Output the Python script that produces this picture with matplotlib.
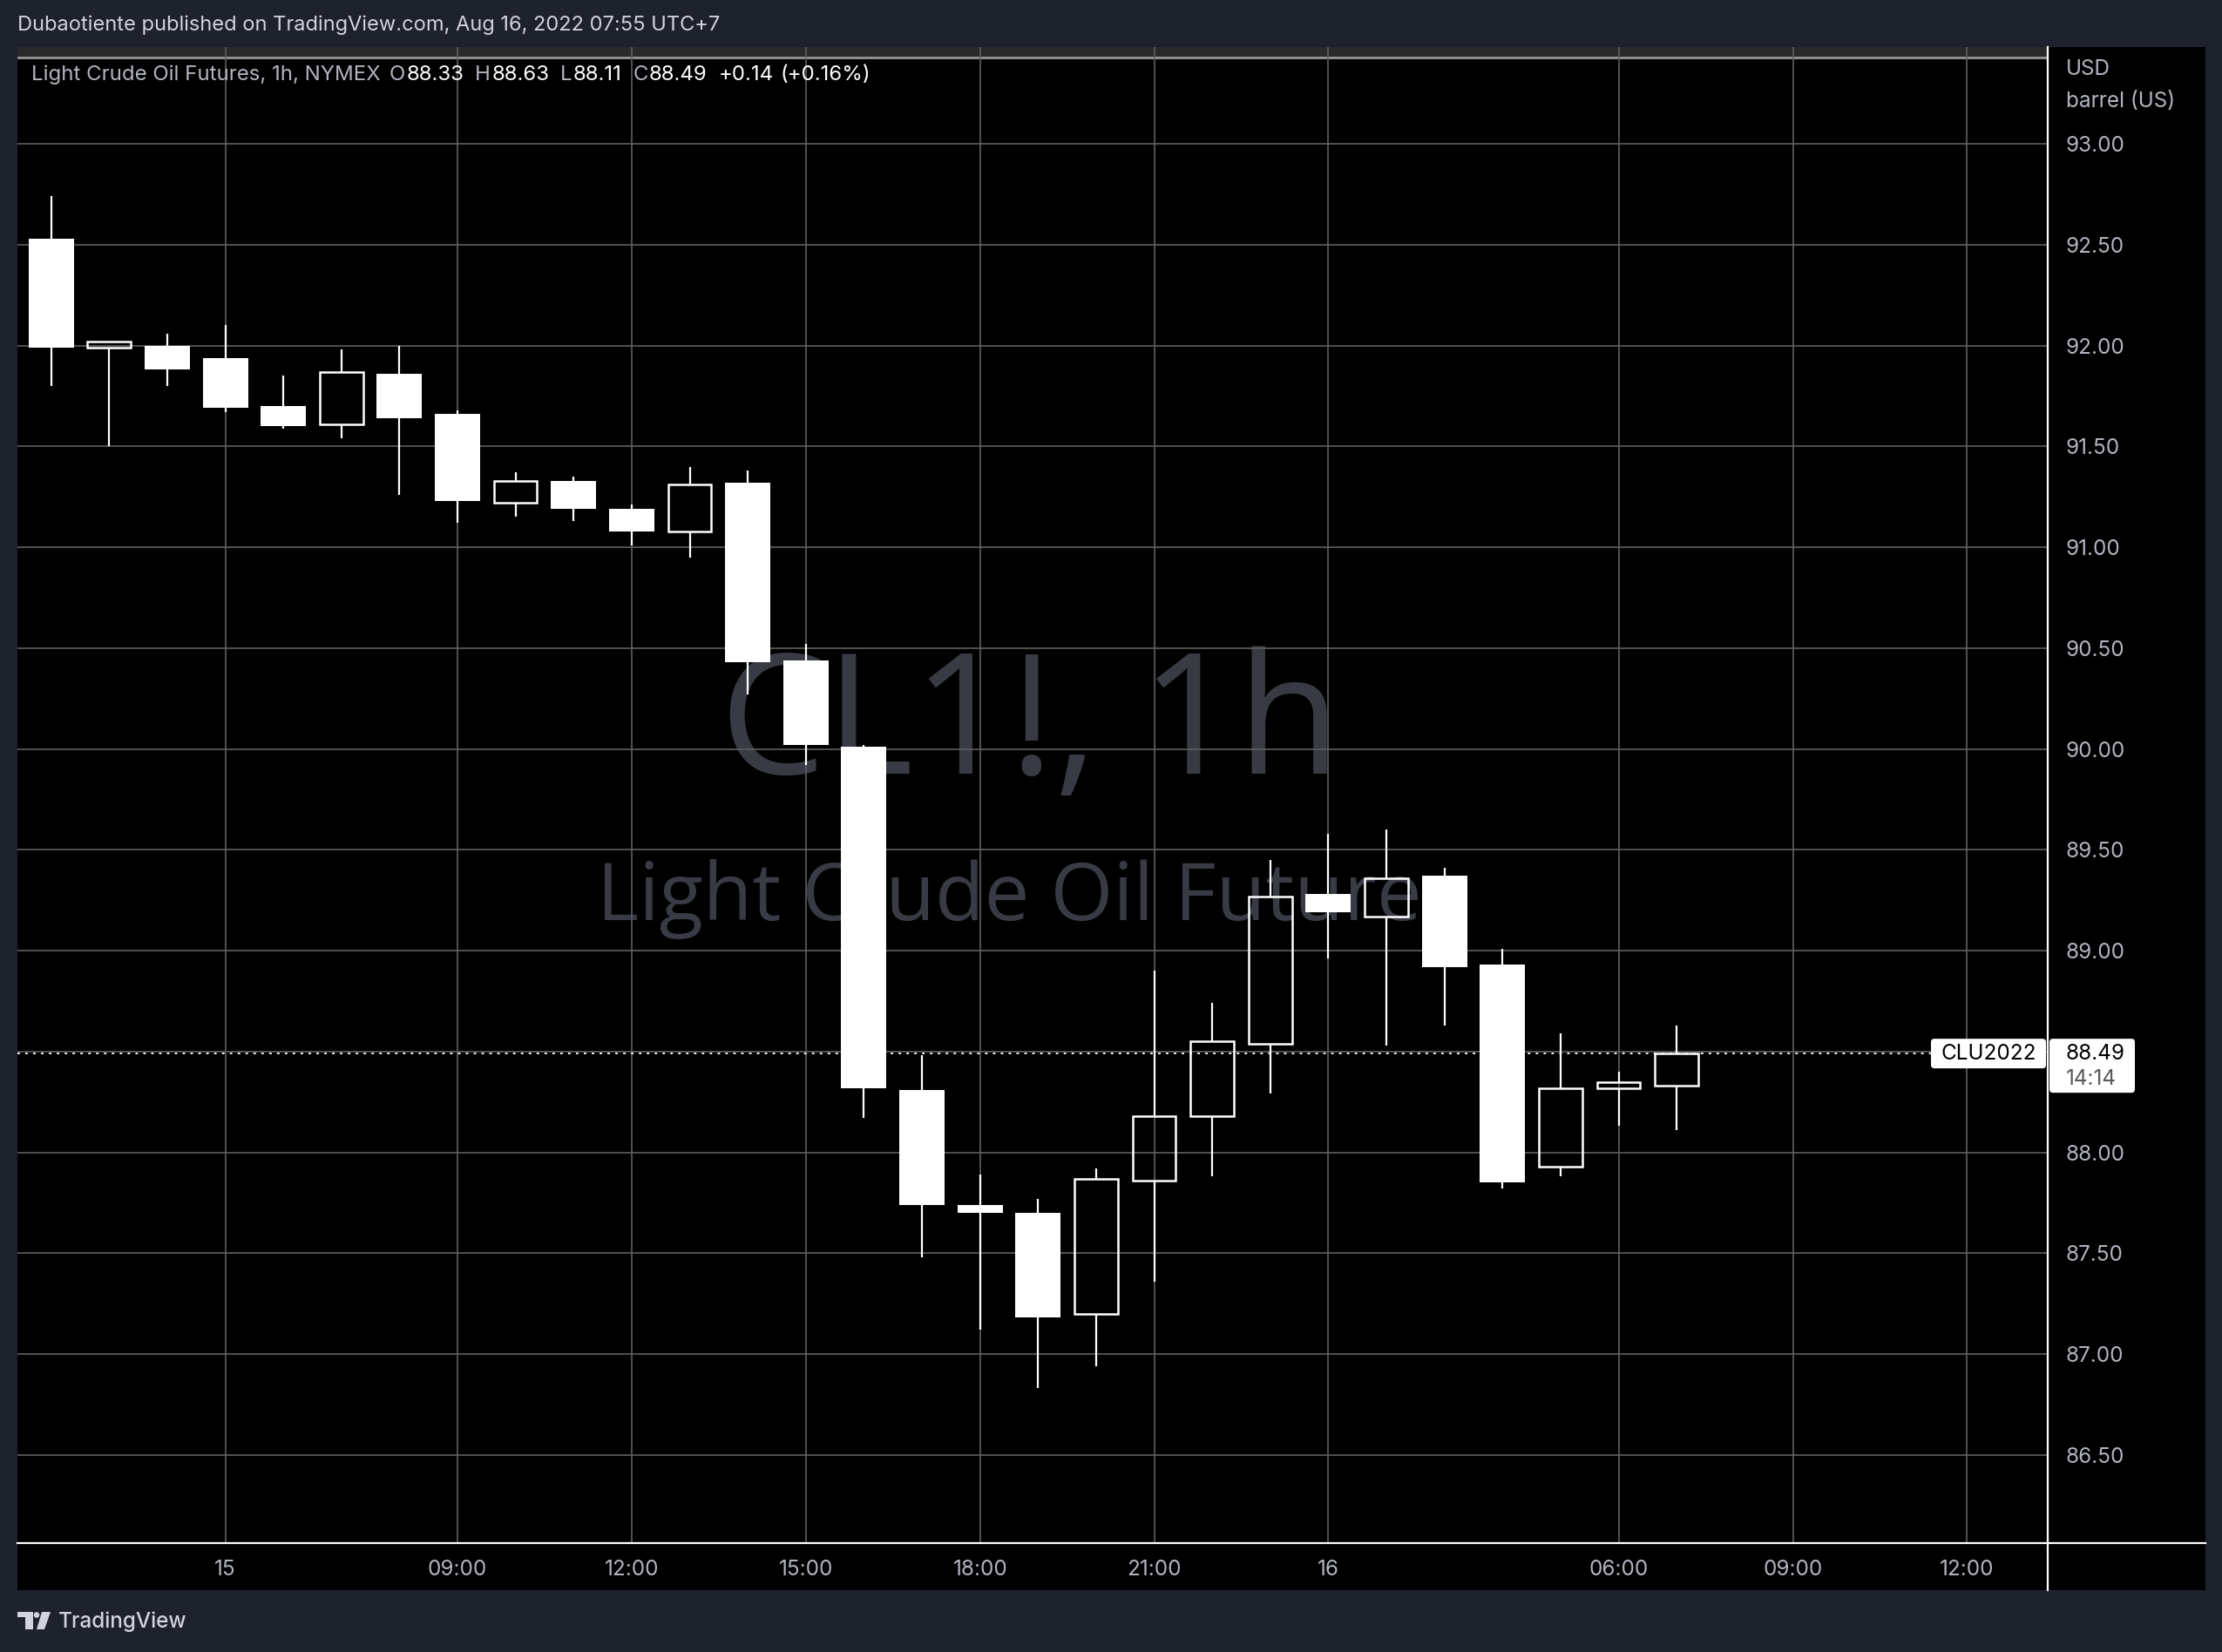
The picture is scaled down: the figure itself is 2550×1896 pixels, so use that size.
import matplotlib

matplotlib.use("Agg")
import matplotlib.pyplot as plt
import numpy as np
from matplotlib.lines import Line2D
from matplotlib.patches import Circle, FancyBboxPatch, Polygon, Rectangle
from matplotlib.transforms import IdentityTransform

W, H = 2550, 1896
DPI = 100

# CL1! hourly bars (UTC+7), oldest first
opens = [92.53, 91.99, 92.00, 91.94, 91.70, 91.61, 91.86, 91.66, 91.22, 91.33,
         91.19, 91.08, 91.32, 90.44, 90.01, 88.31, 87.74, 87.70, 87.20, 87.86,
         88.18, 88.54, 89.28, 89.17, 89.37, 88.93, 87.93, 88.32, 88.33]
highs = [92.74, 92.02, 92.06, 92.10, 91.85, 91.98, 92.00, 91.68, 91.37, 91.35,
         91.21, 91.40, 91.38, 90.52, 90.02, 88.48, 87.89, 87.77, 87.92, 88.90,
         88.74, 89.45, 89.58, 89.60, 89.41, 89.01, 88.59, 88.40, 88.63]
lows = [91.80, 91.50, 91.80, 91.67, 91.59, 91.54, 91.26, 91.12, 91.15, 91.13,
        91.01, 90.95, 90.27, 89.92, 88.17, 87.48, 87.12, 86.83, 86.94, 87.36,
        87.88, 88.29, 88.96, 88.53, 88.63, 87.82, 87.88, 88.13, 88.11]
closes = [91.99, 92.02, 91.88, 91.69, 91.60, 91.87, 91.64, 91.23, 91.33, 91.19,
          91.08, 91.31, 90.43, 90.02, 88.32, 87.74, 87.70, 87.18, 87.87, 88.18,
          88.55, 89.27, 89.19, 89.36, 88.92, 87.85, 88.32, 88.35, 88.49]

# bar index of each time-axis label (the market pauses one hour a day)
tick_pos = [3, 7, 10, 13, 16, 19, 22, 27, 30, 33]
tick_labels = ["15", "09:00", "12:00", "15:00", "18:00", "21:00", "16",
               "06:00", "09:00", "12:00"]
price_ticks = [86.50, 87.00, 87.50, 88.00, 88.50, 89.00, 89.50, 90.00,
               90.50, 91.00, 91.50, 92.00, 92.50, 93.00]
last_price = 88.49

BG = "#1e222d"
GRID = "#5f5f5f"
AXIS_TEXT = "#b2b5be"
CAPTION = "#d1d4dc"
WATERMARK = "#383b44"
FS = 17.5  # axis / label text size

plt.rcParams["font.family"] = ["Inter", "DejaVu Sans"]

fig = plt.figure(figsize=(W / DPI, H / DPI), dpi=DPI, facecolor=BG)
PIX = IdentityTransform()


def rect(x0, y0, x1, y1, color, z):
    # corners given in pixels from the top-left of the image
    fig.add_artist(Rectangle((x0, H - y1), x1 - x0, y1 - y0, transform=PIX,
                             facecolor=color, lw=0, zorder=z))


def text(x, y, s, **kw):
    return fig.text(x, H - y, s, transform=PIX, **kw)


# chart panel and the thin strip along its top
rect(20, 54, 2531, 1825, "#000000", -3)
rect(20, 54, 2350, 65, "#2a2a2a", -2.5)
rect(20, 65, 2350, 68, "#8e8e8e", -2.5)

# watermark sits under the grid
text(1182, 888, "CL1!, 1h", ha="center", va="baseline", fontsize=139,
     family=["Open Sans"], color=WATERMARK, zorder=-1)
text(1180, 1056, "Light Crude Oil Futures", ha="center", va="baseline",
     fontsize=66.5, family=["Open Sans"], color=WATERMARK, zorder=-1)

ax = fig.add_axes([20 / W, 1 - 1771 / H, 2330 / W, (1771 - 54) / H])
ax.set_facecolor("none")
ax.set_zorder(0)
for s in ax.spines.values():
    s.set_visible(False)

o = np.array(opens)
hi = np.array(highs)
lo = np.array(lows)
c = np.array(closes)
x = np.arange(len(o))
up = c >= o
body_lo = np.minimum(o, c)
body_hi = np.maximum(o, c)

ax.vlines(x, body_hi, hi, color="white", lw=1.6, zorder=3)
ax.vlines(x, lo, body_lo, color="white", lw=1.6, zorder=3)
ax.bar(x[~up], (body_hi - body_lo)[~up], bottom=body_lo[~up], width=0.78,
       color="white", lw=0, zorder=4)
ax.bar(x[up], (body_hi - body_lo)[up], bottom=body_lo[up], width=0.745,
       facecolor="none", edgecolor="white", lw=1.8, zorder=4)

ax.axhline(last_price, color="white", lw=1.3, linestyle=(0, (1.6, 3.4)), zorder=2.5)

ax.set_xlim(-0.58, 34.39)
ax.set_ylim(86.063, 93.48)
ax.set_xticks(tick_pos, tick_labels)
ax.set_yticks(price_ticks, [f"{p:.2f}" for p in price_ticks])
ax.yaxis.tick_right()
ax.set_axisbelow("line")
ax.grid(True, color=GRID, lw=1.2)
ax.tick_params(axis="both", length=0, colors=AXIS_TEXT, labelsize=FS)
ax.tick_params(axis="y", pad=15)
ax.tick_params(axis="x", pad=13.5)

# axis separators
fig.add_artist(Line2D([2350, 2350], [H - 54, H - 1825], transform=PIX,
                      color="white", lw=1.6, zorder=1))
fig.add_artist(Line2D([20, 2531], [H - 1771, H - 1771], transform=PIX,
                      color="white", lw=1.6, zorder=1))

# price-scale header
text(2371, 80, "USD", va="center", fontsize=FS, color=AXIS_TEXT)
text(2371, 117, "barrel (US)", va="center", fontsize=FS, color=AXIS_TEXT)

# last price tags, placed from the data transform
yp = ax.transData.transform((0, last_price))[1]
fig.add_artist(FancyBboxPatch((2216, yp - 17), 132, 34, transform=PIX,
                              boxstyle="round,pad=0,rounding_size=4",
                              facecolor="white", lw=0, zorder=2))
fig.text(2282, yp, "CLU2022", transform=PIX, ha="center", va="center",
         fontsize=FS, color="black", zorder=3)
fig.add_artist(FancyBboxPatch((2352, yp - 45), 98, 62, transform=PIX,
                              boxstyle="round,pad=0,rounding_size=4",
                              facecolor="white", lw=0, zorder=2))
fig.text(2371, yp, f"{last_price:.2f}", transform=PIX, va="center",
         fontsize=FS, color="black", zorder=3)
fig.text(2371, yp - 29, "14:14", transform=PIX, va="center",
         fontsize=FS, color="#5a5a5a", zorder=3)

# top caption
text(20, 29, "Dubaotiente published on TradingView.com, Aug 16, 2022 07:55 UTC+7",
     va="center", fontsize=17, color=CAPTION)

# series legend, pieces laid out left to right
renderer = fig.canvas.get_renderer()
chg = closes[-1] - closes[-2]
legend_parts = [
    (0, "Light Crude Oil Futures, 1h, NYMEX", AXIS_TEXT),
    (10, "O", AXIS_TEXT), (1, f"{opens[-1]:.2f}", "white"),
    (13, "H", AXIS_TEXT), (1, f"{highs[-1]:.2f}", "white"),
    (13, "L", AXIS_TEXT), (1, f"{lows[-1]:.2f}", "white"),
    (13, "C", AXIS_TEXT), (1, f"{closes[-1]:.2f}", "white"),
    (13, f"{chg:+.2f}", "white"),
    (7, f"({chg / closes[-2] * 100:+.2f}%)", "white"),
]
xc = 36.5
for gap, s, col in legend_parts:
    xc += gap
    t = text(xc, 86, s, va="center", fontsize=17.3, color=col, zorder=2)
    xc += t.get_window_extent(renderer).width

# TradingView mark and name at the bottom
logo = "#d1d4dc"
fig.add_artist(Polygon([(20, H - 1850), (38, H - 1850), (38, H - 1870),
                        (29, H - 1870), (29, H - 1856), (20, H - 1856)],
                       closed=True, transform=PIX, facecolor=logo, lw=0))
fig.add_artist(Circle((42, H - 1853.5), 3.3, transform=PIX, facecolor=logo, lw=0))
fig.add_artist(Polygon([(48, H - 1850), (58, H - 1850), (51, H - 1870),
                        (42, H - 1870)],
                       closed=True, transform=PIX, facecolor=logo, lw=0))
text(67, 1861, "TradingView", va="center", fontsize=17.5, color=logo,
     fontweight="medium")

fig.savefig("out.png", dpi=DPI, facecolor=BG)
